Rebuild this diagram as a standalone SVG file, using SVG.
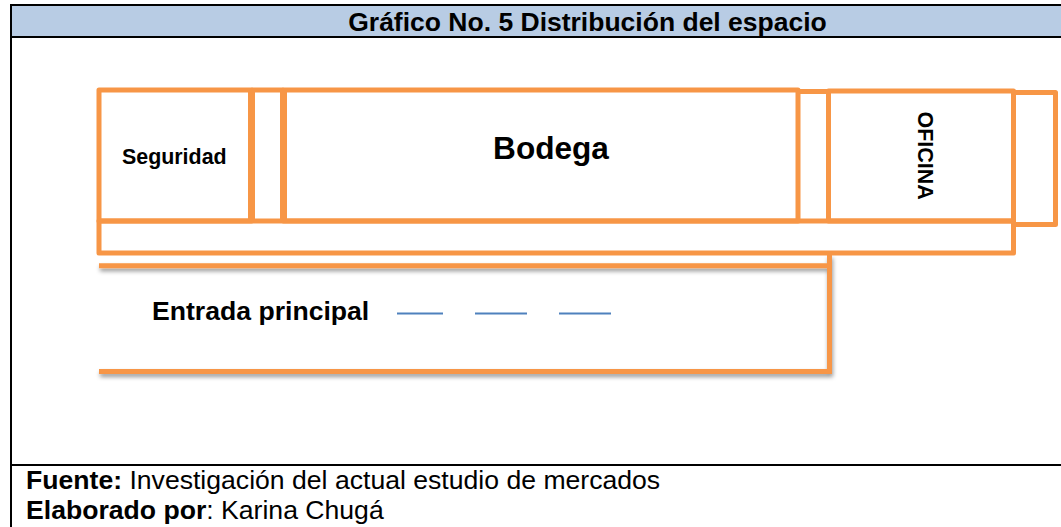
<svg xmlns="http://www.w3.org/2000/svg" width="1061" height="527" viewBox="0 0 1061 527">
<defs>
<style>
text{font-family:"Liberation Sans",Arial,sans-serif;fill:#000}
.b{font-weight:700}
.o{fill:none;stroke:#f79646;stroke-width:5;stroke-linejoin:round}
.w{stroke-width:7;stroke-linecap:butt}
.s{fill:none;stroke:#f79646;stroke-width:5}
.d{stroke:#4f81bd;stroke-width:2;fill:none}
.f{stroke:#000;stroke-width:2;fill:none}
</style>
<filter id="sh" x="-5%" y="-20%" width="110%" height="140%"><feDropShadow dx="1" dy="3" stdDeviation="2" flood-color="#000" flood-opacity=".4"/></filter>
</defs>
<rect width="1061" height="527" fill="#fff"/>
<g id="frame">
<rect x="11" y="5" width="1050" height="32" fill="#b8cce4"/>
<path class="f" d="M11 527V5H1061M11 37H1061M11 465H1061"/>
<text class="b" x="587.500" y="31" font-size="26.500" text-anchor="middle">Gráfico No. 5 Distribución del espacio</text>
</g>
<g id="entrada">
<path class="s" filter="url(#sh)" d="M99 265.800H829.500M829.500 255V371.500H99"/>
<text class="b" x="152" y="320" font-size="26.600">Entrada principal</text>
</g>
<g id="pasillo"><rect class="o" x="99" y="221" width="914.500" height="32"/></g>
<g id="seguridad"><rect class="o" x="99" y="90" width="152.500" height="131"/><text class="b" x="174.300" y="164" font-size="21.400" text-anchor="middle">Seguridad</text></g>
<g id="paso1"><path class="o" d="M251.500 90H283.500"/><path class="o w" d="M251.500 90V221M283.500 90V221"/></g>
<g id="bodega"><rect class="o" x="283.500" y="90" width="514.500" height="131"/><text class="b" x="551" y="159" font-size="31.600" text-anchor="middle">Bodega</text></g>
<g id="paso2"><path class="o" d="M798 91.500H828.500"/></g>
<g id="oficina"><rect class="o" x="828.500" y="91" width="185" height="130"/><text class="b" transform="translate(918 155.700) rotate(90)" font-size="21.500" text-anchor="middle">OFICINA</text></g>
<g id="anexo"><path class="o" d="M1013.500 92.500H1055.500V224.500H1013.500"/></g>
<g id="connectors"><path class="d" d="M397 313.500H443M475 313.500H527M559 313.500H611"/></g>
<g id="pie">
<text x="26" y="489" font-size="26.600"><tspan class="b">Fuente:</tspan> Investigación del actual estudio de mercados</text>
<text x="26" y="519" font-size="26.600"><tspan class="b">Elaborado por</tspan>: Karina Chugá</text>
</g>
</svg>
